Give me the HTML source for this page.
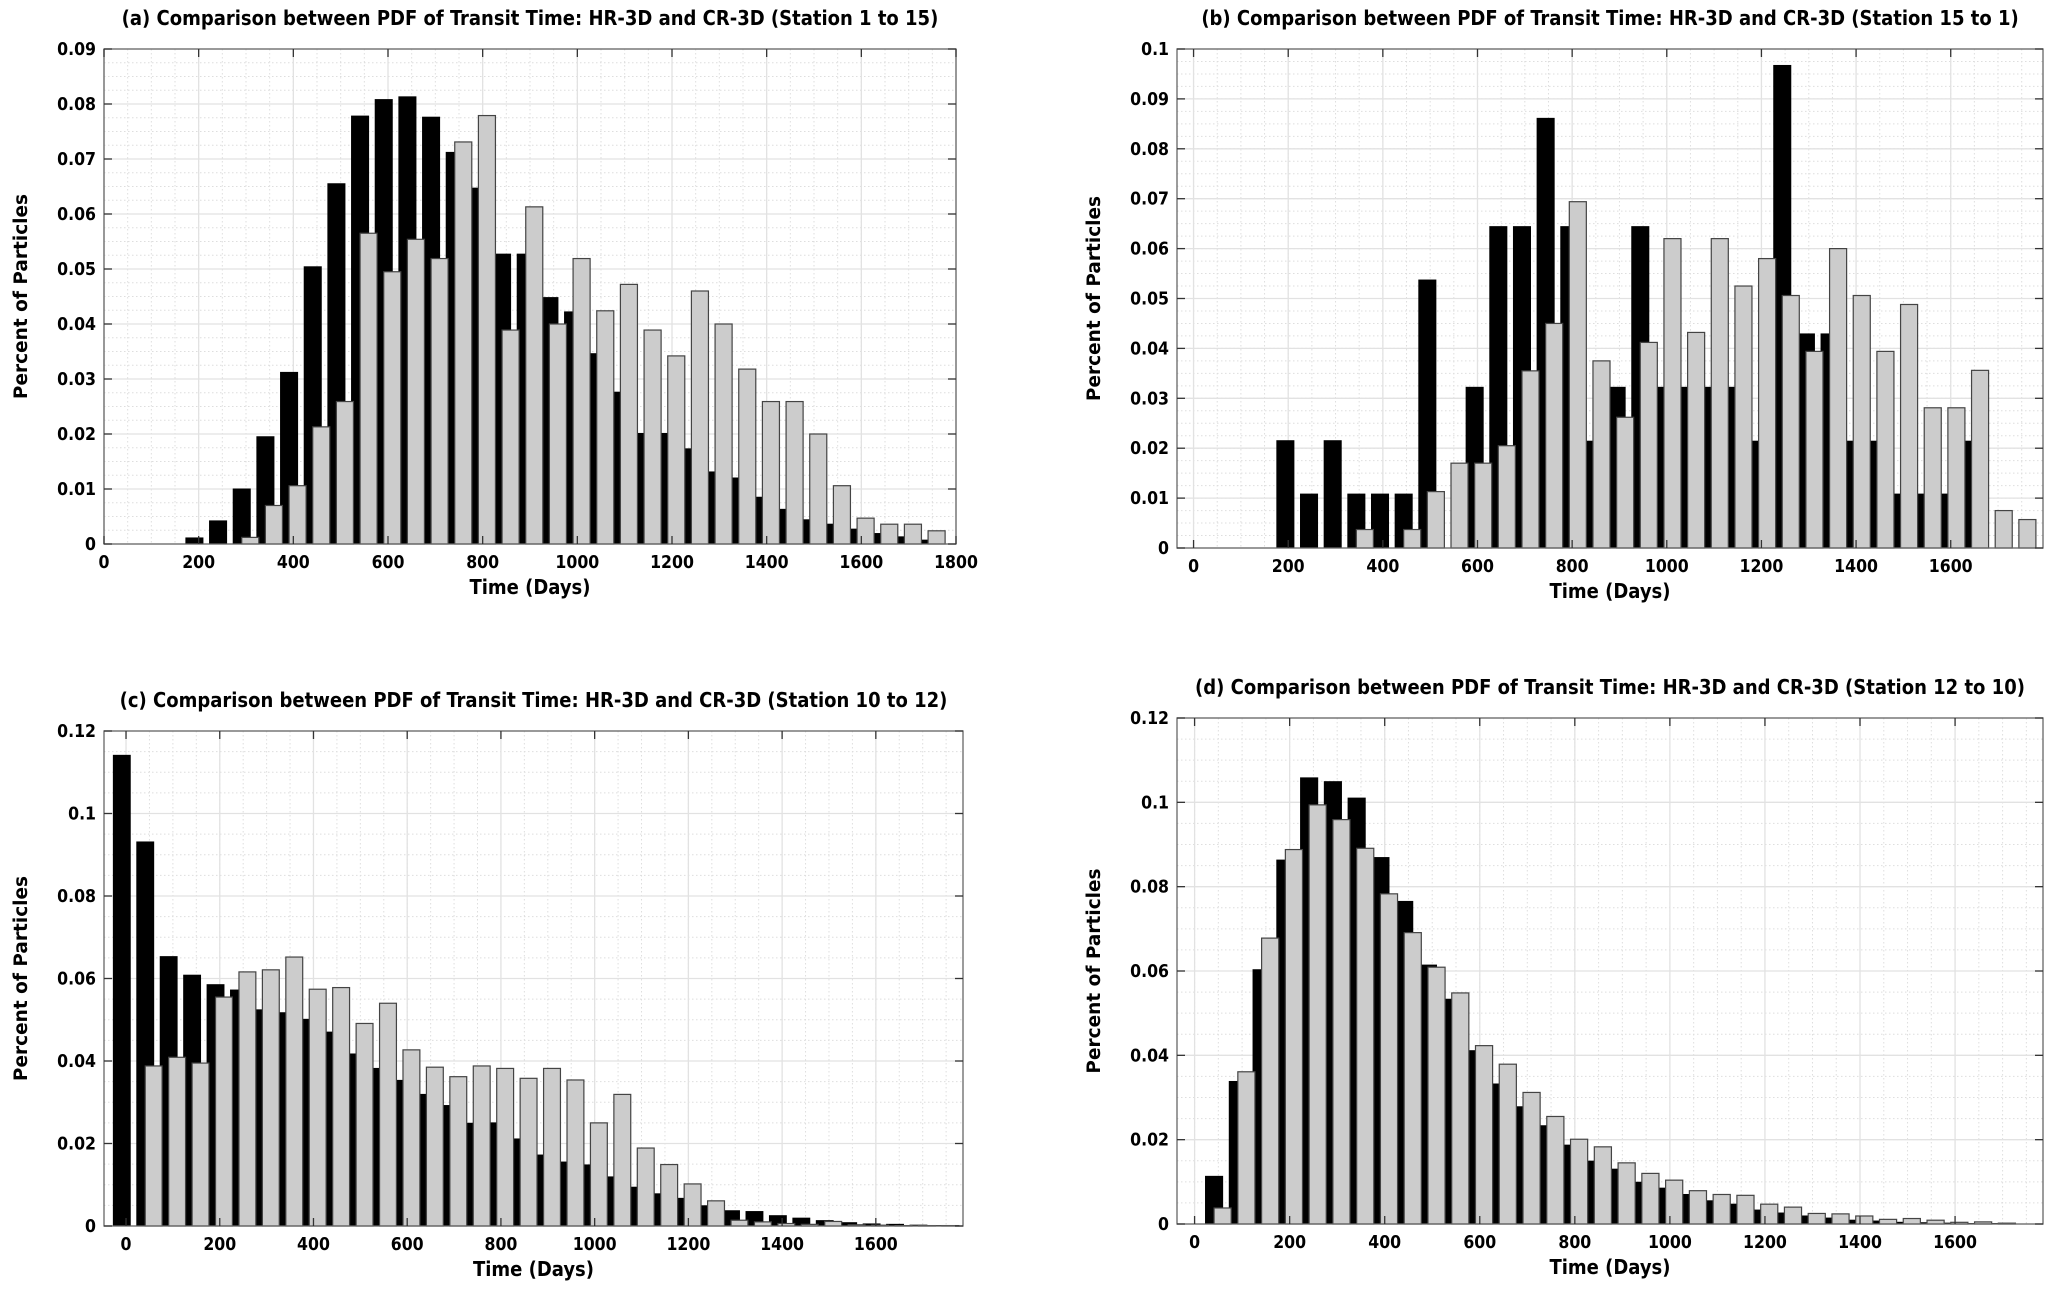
<!DOCTYPE html>
<html><head><meta charset="utf-8"><style>
html,body{margin:0;padding:0;background:#fff}
svg{display:block}
text{font-family:"DejaVu Sans Condensed","Liberation Sans",sans-serif;font-weight:bold;fill:#000}
.yl{font-family:"DejaVu Sans","Liberation Sans",sans-serif}
</style></head><body>
<svg id="fig" width="2067" height="1297" viewBox="0 0 2067 1297" xmlns="http://www.w3.org/2000/svg"></svg>
<script>
// ---- Data ----
const aCenters = [200,250,300,350,400,450,500,550,600,650,700,750,800,850,900,950,1000,1050,1100,1150,1200,1250,1300,1350,1400,1450,1500,1550,1600,1650,1700,1750];
const aHR = [0.0011,0.0042,0.010,0.0195,0.0312,0.0504,0.0655,0.0778,0.0808,0.0813,0.0776,0.0712,0.0647,0.0527,0.0527,0.0448,0.0422,0.0346,0.0276,0.0201,0.0201,0.0173,0.0131,0.012,0.0085,0.0063,0.0044,0.0036,0.0027,0.0019,0.0013,0.0007];
const aCR = [0,0,0.0012,0.007,0.0106,0.0213,0.0259,0.0565,0.0495,0.0554,0.0519,0.0731,0.0779,0.0389,0.0613,0.04,0.0519,0.0424,0.0472,0.0389,0.0342,0.046,0.04,0.0318,0.0259,0.0259,0.02,0.0106,0.0047,0.0036,0.0036,0.0024];

const bCenters = [203,253,303,353,403,453,503,553,603,653,703,753,803,853,903,953,1003,1053,1103,1153,1203,1253,1303,1353,1403,1453,1503,1553,1603,1653,1703,1753];
const bHR = [0.0215,0.0108,0.0215,0.0108,0.0108,0.0108,0.0537,0,0.0322,0.0644,0.0644,0.0861,0.0644,0.0214,0.0322,0.0644,0.0322,0.0322,0.0322,0.0322,0.0214,0.0967,0.0429,0.0429,0.0214,0.0214,0.0108,0.0108,0.0108,0.0214,0,0];
const bCR = [0,0,0,0.0037,0,0.0037,0.0113,0.017,0.017,0.0205,0.0355,0.045,0.0694,0.0375,0.0262,0.0412,0.062,0.0432,0.062,0.0525,0.058,0.0506,0.0394,0.06,0.0506,0.0394,0.0488,0.0281,0.0281,0.0356,0.0075,0.0057];

const cCenters = [0,50,100,150,200,250,300,350,400,450,500,550,600,650,700,750,800,850,900,950,1000,1050,1100,1150,1200,1250,1300,1350,1400,1450,1500,1550,1600,1650,1700,1750];
const cHR = [0.1141,0.0931,0.0653,0.0608,0.0585,0.0572,0.0524,0.0517,0.0501,0.047,0.0417,0.0382,0.0353,0.0319,0.0292,0.0249,0.025,0.0211,0.0172,0.0155,0.0148,0.0119,0.0094,0.0078,0.0067,0.0049,0.0037,0.0035,0.0025,0.0019,0.0013,0.0008,0.0005,0.0004,0.0002,0.0001];
const cCR = [0,0.0388,0.0409,0.0395,0.0555,0.0616,0.0621,0.0652,0.0574,0.0578,0.0491,0.054,0.0427,0.0385,0.0362,0.0388,0.0382,0.0358,0.0382,0.0354,0.025,0.0319,0.0189,0.0149,0.0102,0.0061,0.0014,0.001,0.0006,0.0004,0.0011,0.0003,0.0002,0.0001,0.0001,0.0001];

const dCenters = [50,100,150,200,250,300,350,400,450,500,550,600,650,700,750,800,850,900,950,1000,1050,1100,1150,1200,1250,1300,1350,1400,1450,1500,1550,1600,1650,1700];
const dHR = [0.0113,0.0338,0.0603,0.0863,0.1058,0.1049,0.101,0.0869,0.0765,0.0614,0.0533,0.0411,0.0332,0.0278,0.0233,0.0187,0.0149,0.013,0.0099,0.0085,0.007,0.0055,0.0047,0.0033,0.0026,0.0019,0.0014,0.0009,0.0007,0.0004,0.0003,0.0002,0.0001,0.0001];
const dCR = [0.0038,0.0361,0.0678,0.0888,0.0994,0.0959,0.0891,0.0783,0.0691,0.0609,0.0548,0.0423,0.0379,0.0312,0.0255,0.0201,0.0183,0.0145,0.012,0.0104,0.0079,0.007,0.0068,0.0047,0.004,0.0025,0.0024,0.0019,0.0011,0.0013,0.0009,0.0004,0.0005,0.0002];

const aXTicks = [0,200,400,600,800,1000,1200,1400,1600,1800];
const bXTicks = [0,200,400,600,800,1000,1200,1400,1600];
const aYTicks = [0,0.01,0.02,0.03,0.04,0.05,0.06,0.07,0.08,0.09];
const bYTicks = [0,0.01,0.02,0.03,0.04,0.05,0.06,0.07,0.08,0.09,0.1];
const cYTicks = [0,0.02,0.04,0.06,0.08,0.1,0.12];

const NS = "http://www.w3.org/2000/svg";
const fig = document.getElementById('fig');
function mk(tag, attrs, parent){
  const e = document.createElementNS(NS, tag);
  for (const k in attrs) e.setAttribute(k, attrs[k]);
  (parent||fig).appendChild(e);
  return e;
}

function panel(cfg){
  const g = mk('g', {});
  
  
  const L=cfg.L, R=cfg.R, T=cfg.T, B=cfg.B;
  const sx = v => L + (v - cfg.xmin) / (cfg.xmax - cfg.xmin) * (R - L);
  const sy = v => B - (v - cfg.ymin) / (cfg.ymax - cfg.ymin) * (B - T);
  const xs = cfg.xTicks[1]-cfg.xTicks[0], ys = cfg.yTicks[1]-cfg.yTicks[0];
  for (let v = cfg.xTicks[0]; v <= cfg.xmax; v += xs/4){
    if (v < cfg.xmin) continue;
    const x = sx(v);
    const ln = mk('line', {x1:x, x2:x, y1:T, y2:B, stroke:'#dedede', 'stroke-width':1, 'stroke-dasharray':'1.5,2.5'}, g);
    
    
  }
  for (let v = cfg.ymin; v <= cfg.ymax + 1e-9; v += ys/4){
    const y = sy(v);
    const ln = mk('line', {x1:L, x2:R, y1:y, y2:y, stroke:'#dedede', 'stroke-width':1, 'stroke-dasharray':'1.5,2.5'}, g);
    
    
  }
  cfg.xTicks.forEach(v => {
    const x = sx(v);
    const ln = mk('line', {x1:x, x2:x, y1:T, y2:B, stroke:'#e2e2e2', 'stroke-width':1.3}, g);
    
    
  });
  cfg.yTicks.forEach(v => {
    const y = sy(v);
    const ln = mk('line', {x1:L, x2:R, y1:y, y2:y, stroke:'#e2e2e2', 'stroke-width':1.3}, g);
    
    
  });
  const w = 36, off = 9;
  cfg.centers.forEach((c, i) => {
    const v = cfg.hr[i];
    if (v > 0){
      const x0 = sx(c - off - w/2), x1 = sx(c - off + w/2), y = sy(v);
      const r = mk('rect', {x:x0, y:y, width:x1-x0, height:B-y, fill:'#000', stroke:'#000', 'stroke-width':1}, g);
      
      
    }
  });
  cfg.centers.forEach((c, i) => {
    const v = cfg.cr[i];
    if (v > 0){
      const x0 = sx(c + off - w/2), x1 = sx(c + off + w/2), y = sy(v);
      const r = mk('rect', {x:x0, y:y, width:x1-x0, height:B-y, fill:'#cccccc', stroke:'#444', 'stroke-width':1.2}, g);
      
      
    }
  });
  const box = mk('rect', {x:L, y:T, width:R-L, height:B-T, fill:'none', stroke:'#666', 'stroke-width':1.3}, g);
  
  
  cfg.xTicks.forEach(v => {
    const x = sx(v);
    mk('line', {x1:x, x2:x, y1:B, y2:B-8, stroke:'#333', 'stroke-width':1.3}, g);
    mk('line', {x1:x, x2:x, y1:T, y2:T+8, stroke:'#333', 'stroke-width':1.3}, g);
    const t = mk('text', {x:x, y:B+24, 'text-anchor':'middle', 'font-size':17.5}, g);
    t.textContent = String(v);
    
    
  });
  cfg.yTicks.forEach(v => {
    const y = sy(v);
    mk('line', {x1:L, x2:L+8, y1:y, y2:y, stroke:'#333', 'stroke-width':1.3}, g);
    mk('line', {x1:R, x2:R-8, y1:y, y2:y, stroke:'#333', 'stroke-width':1.3}, g);
    const t = mk('text', {x:L-8, y:y+6, 'text-anchor':'end', 'font-size':17.5}, g);
    t.textContent = String(+v.toFixed(3));
    
    
  });
  const ti = mk('text', {x:(L+R)/2, y:T-24, 'text-anchor':'middle', 'font-size':20}, g);
  ti.textContent = cfg.title;
  
  
  const xl = mk('text', {x:(L+R)/2, y:B+50, 'text-anchor':'middle', 'font-size':20}, g);
  xl.textContent = 'Time (Days)';
  
  
  const yx = L-77, yy = (T+B)/2;
  const yl = mk('text', {x:yx, y:yy, 'text-anchor':'middle', 'font-size':18.5, 'class':'yl', transform:'rotate(-90 '+yx+' '+yy+')'}, g);
  yl.textContent = 'Percent of Particles';
  
  
}

panel({name:'panel-a', L:104, R:956, T:49, B:544, xmin:0, xmax:1800, ymin:0, ymax:0.09,
  xTicks:aXTicks, yTicks:aYTicks, centers:aCenters, hr:aHR, cr:aCR,
  title:'(a) Comparison between PDF of Transit Time: HR-3D and CR-3D (Station 1 to 15)'});
panel({name:'panel-b', L:1177, R:2043, T:49, B:548, xmin:-35, xmax:1795, ymin:0, ymax:0.1,
  xTicks:bXTicks, yTicks:bYTicks, centers:bCenters, hr:bHR, cr:bCR,
  title:'(b) Comparison between PDF of Transit Time: HR-3D and CR-3D (Station 15 to 1)'});
panel({name:'panel-c', L:104, R:963, T:731, B:1226, xmin:-47, xmax:1786, ymin:0, ymax:0.12,
  xTicks:bXTicks, yTicks:cYTicks, centers:cCenters, hr:cHR, cr:cCR,
  title:'(c) Comparison between PDF of Transit Time: HR-3D and CR-3D (Station 10 to 12)'});
panel({name:'panel-d', L:1177, R:2043, T:718, B:1224, xmin:-37, xmax:1785, ymin:0, ymax:0.12,
  xTicks:bXTicks, yTicks:cYTicks, centers:dCenters, hr:dHR, cr:dCR,
  title:'(d) Comparison between PDF of Transit Time: HR-3D and CR-3D (Station 12 to 10)'});
</script>
</body></html>
